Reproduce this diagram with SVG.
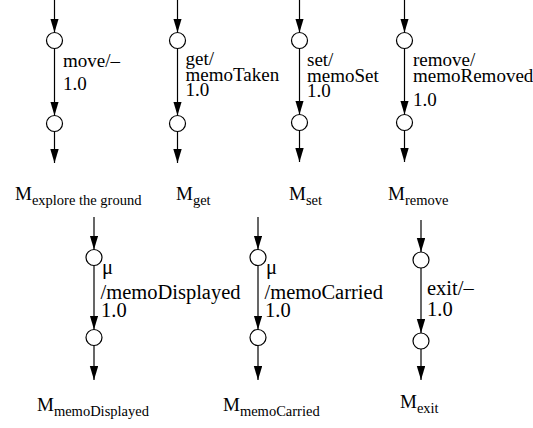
<svg xmlns="http://www.w3.org/2000/svg" width="533" height="428" viewBox="0 0 533 428">
<style>
.st{fill:#fff;stroke:#000;stroke-width:1.2}
.cn{stroke:#000;stroke-width:1.2;fill:none;marker-end:url(#ah)}
text{font-family:"Liberation Serif","Times New Roman",serif;fill:#000}
.lb{font-size:19px}
.lb2{font-size:20.5px}
.m{font-size:19px}
.sub{font-size:14.5px}
</style>
<defs>
<marker id="ah" markerUnits="userSpaceOnUse" markerWidth="15" markerHeight="9" refX="14" refY="4.2" orient="auto">
<path d="M0,0 L14,4.2 L0,8.4 z" fill="#000"/>
</marker>
</defs>
<rect width="533" height="428" fill="#fff"/>
<g id="connectors">
<line class="cn" x1="54.5" y1="0" x2="54.5" y2="32.5"/>
<line class="cn" x1="54.5" y1="48.5" x2="54.5" y2="115.5"/>
<line class="cn" x1="54.5" y1="131.5" x2="54.5" y2="163"/>
<line class="cn" x1="177.5" y1="0" x2="177.5" y2="32.5"/>
<line class="cn" x1="177.5" y1="48.5" x2="177.5" y2="115.5"/>
<line class="cn" x1="177.5" y1="131.5" x2="177.5" y2="163"/>
<line class="cn" x1="299.5" y1="0" x2="299.5" y2="32.5"/>
<line class="cn" x1="299.5" y1="48.5" x2="299.5" y2="114.5"/>
<line class="cn" x1="299.5" y1="130.5" x2="299.5" y2="162"/>
<line class="cn" x1="404.5" y1="0" x2="404.5" y2="32.5"/>
<line class="cn" x1="404.5" y1="48.5" x2="404.5" y2="114.5"/>
<line class="cn" x1="404.5" y1="130.5" x2="404.5" y2="162"/>
<line class="cn" x1="94" y1="217" x2="94" y2="249.5"/>
<line class="cn" x1="94" y1="265.5" x2="94" y2="329.5"/>
<line class="cn" x1="94" y1="345.5" x2="94" y2="380"/>
<line class="cn" x1="258" y1="217" x2="258" y2="249.5"/>
<line class="cn" x1="258" y1="265.5" x2="258" y2="329.5"/>
<line class="cn" x1="258" y1="345.5" x2="258" y2="380"/>
<line class="cn" x1="421" y1="220" x2="421" y2="252"/>
<line class="cn" x1="421" y1="268" x2="421" y2="333"/>
<line class="cn" x1="421" y1="349" x2="421" y2="380"/>
</g>
<g id="explore">
<circle id="explore-s0" class="st" cx="54.5" cy="40.5" r="8"/>
<circle id="explore-s1" class="st" cx="54.5" cy="123.5" r="8"/>
<text class="lb" x="63" y="66.5">move/–</text>
<text class="lb" x="63" y="89.5">1.0</text>
<text class="m" x="15" y="200">M<tspan class="sub" dy="5">explore the ground</tspan></text>
</g>
<g id="get">
<circle id="get-s0" class="st" cx="177.5" cy="40.5" r="8"/>
<circle id="get-s1" class="st" cx="177.5" cy="123.5" r="8"/>
<text class="lb" x="185.5" y="65">get/</text>
<text class="lb" x="185.5" y="80.5">memoTaken</text>
<text class="lb" x="185.5" y="96">1.0</text>
<text class="m" x="176" y="200">M<tspan class="sub" dy="5">get</tspan></text>
</g>
<g id="set">
<circle id="set-s0" class="st" cx="299.5" cy="40.5" r="8"/>
<circle id="set-s1" class="st" cx="299.5" cy="122.5" r="8"/>
<text class="lb" x="307" y="65.5">set/</text>
<text class="lb" x="307" y="81.5">memoSet</text>
<text class="lb" x="307" y="97">1.0</text>
<text class="m" x="289" y="200">M<tspan class="sub" dy="5">set</tspan></text>
</g>
<g id="remove">
<circle id="remove-s0" class="st" cx="404.5" cy="40.5" r="8"/>
<circle id="remove-s1" class="st" cx="404.5" cy="122.5" r="8"/>
<text class="lb" x="413" y="65.5">remove/</text>
<text class="lb" x="413" y="81.5">memoRemoved</text>
<text class="lb" x="413" y="106">1.0</text>
<text class="m" x="388" y="200">M<tspan class="sub" dy="5">remove</tspan></text>
</g>
<g id="memoDisplayed">
<circle id="memoDisplayed-s0" class="st" cx="94" cy="257.5" r="8"/>
<circle id="memoDisplayed-s1" class="st" cx="94" cy="337.5" r="8"/>
<text class="lb2" x="102" y="274">μ</text>
<text class="lb2" x="100.5" y="298.5">/memoDisplayed</text>
<text class="lb2" x="101" y="317">1.0</text>
<text class="m" x="37" y="411">M<tspan class="sub" dy="5">memoDisplayed</tspan></text>
</g>
<g id="memoCarried">
<circle id="memoCarried-s0" class="st" cx="258" cy="257.5" r="8"/>
<circle id="memoCarried-s1" class="st" cx="258" cy="337.5" r="8"/>
<text class="lb2" x="266" y="274">μ</text>
<text class="lb2" x="264.5" y="298.5">/memoCarried</text>
<text class="lb2" x="265" y="317">1.0</text>
<text class="m" x="223" y="411">M<tspan class="sub" dy="5">memoCarried</tspan></text>
</g>
<g id="exit">
<circle id="exit-s0" class="st" cx="421" cy="260" r="8"/>
<circle id="exit-s1" class="st" cx="421" cy="341" r="8"/>
<text class="lb2" x="427" y="295">exit/–</text>
<text class="lb2" x="427" y="316">1.0</text>
<text class="m" x="400" y="408">M<tspan class="sub" dy="5">exit</tspan></text>
</g>
</svg>
